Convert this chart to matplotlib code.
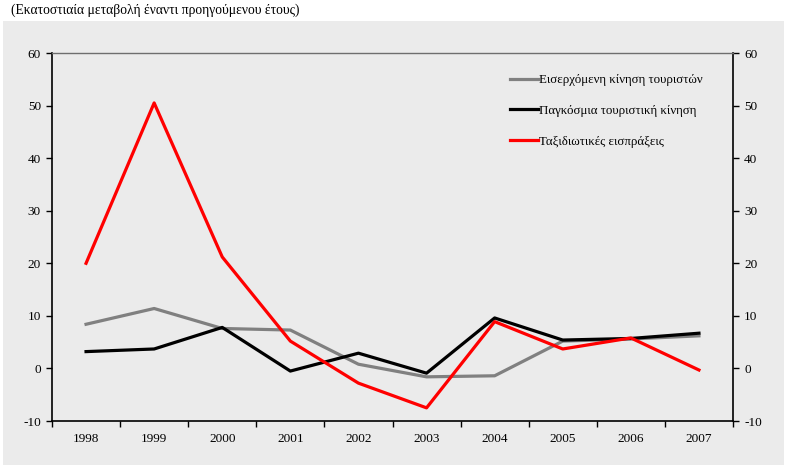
import matplotlib.pyplot as plt
from matplotlib.patches import Rectangle

years = ["1998", "1999", "2000", "2001", "2002", "2003", "2004", "2005", "2006", "2007"]
arrivals = [8.4, 11.4, 7.6, 7.3, 0.8, -1.6, -1.4, 5.2, 5.6, 6.2]
world = [3.2, 3.7, 7.8, -0.5, 2.9, -0.9, 9.6, 5.4, 5.7, 6.7]
receipts = [20.0, 50.5, 21.2, 5.2, -2.8, -7.5, 8.9, 3.7, 5.8, -0.3]

labels = ["Εισερχόμενη κίνηση τουριστών", "Παγκόσμια τουριστική κίνηση", "Ταξιδιωτικές εισπράξεις"]
title = "(Εκατοστιαία μεταβολή έναντι προηγούμενου έτους)"

plt.rcParams["font.family"] = ["Liberation Serif", "DejaVu Serif"]
plt.rcParams["axes.unicode_minus"] = False
bg = "#ebebeb"

fig = plt.figure(figsize=(7.89, 4.68), dpi=100)
fig.patches.append(Rectangle((3 / 789, 1 - 465 / 468), 781 / 789, 444 / 468,
                             transform=fig.transFigure, facecolor=bg, edgecolor="none", zorder=-5))
fig.text(11 / 789, 1 - 10 / 468, title, fontsize=9.8, va="center", ha="left")

ax = fig.add_axes([52 / 789, 1 - 421 / 468, 681 / 789, 368 / 468])
ax.set_facecolor(bg)
x = range(len(years))
ax.plot(x, arrivals, color="#808080", lw=2.3, label=labels[0])
ax.plot(x, world, color="black", lw=2.3, label=labels[1])
ax.plot(x, receipts, color="#ff0000", lw=2.3, label=labels[2])

ax.set_xlim(-0.5, len(years) - 0.5)
ax.set_ylim(-10, 60)
ax.set_yticks(range(-10, 61, 10))
ax.set_xticks([i + 0.5 for i in range(-1, len(years))])
ax.set_xticklabels([])
ax.set_xticks(list(x), minor=True)
ax.set_xticklabels(years, minor=True)
ax.tick_params(axis="x", which="major", direction="out", length=4, width=1)
ax.tick_params(axis="x", which="minor", length=0, pad=9, labelsize=9.5)
ax.tick_params(axis="y", direction="out", length=4, width=1, labelsize=9.5,
               left=True, right=True, labelleft=True, labelright=True, pad=4)

for side in ["left", "right", "bottom"]:
    ax.spines[side].set_color("black")
    ax.spines[side].set_linewidth(1.2)
ax.spines["top"].set_color("#6e6e6e")
ax.spines["top"].set_linewidth(1)

leg = ax.legend(loc="upper left", bbox_to_anchor=(0.665, 0.957), borderaxespad=0,
                frameon=False, fontsize=9.3, handlelength=2.2, handletextpad=0.05,
                labelspacing=1.45)

fig.savefig("out.png", dpi=100)
